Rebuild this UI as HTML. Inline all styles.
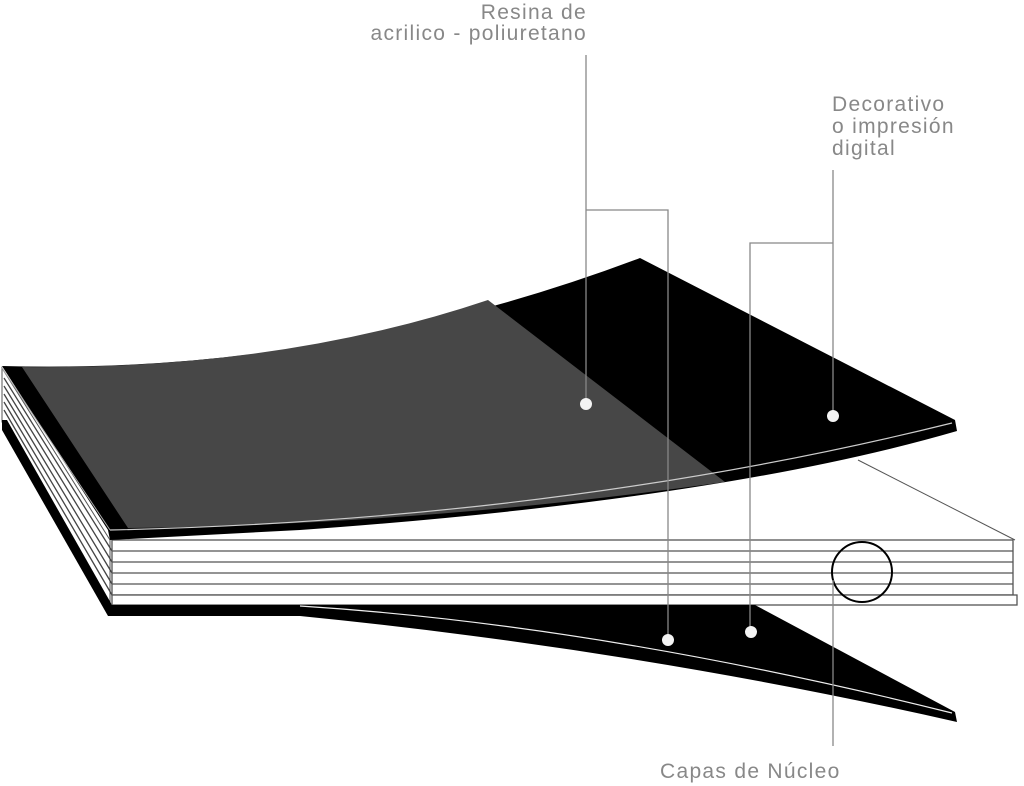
<!DOCTYPE html>
<html><head><meta charset="utf-8"><style>
html,body{margin:0;padding:0;background:#fff;width:1024px;height:786px;overflow:hidden}
svg{display:block}
text{font-family:"Liberation Sans",sans-serif;font-size:21px;fill:#888;letter-spacing:1.3px}
</style></head><body>
<svg width="1024" height="786" viewBox="0 0 1024 786" xmlns="http://www.w3.org/2000/svg">
<path d="M2,368 L110,540 L110,606 L2,422 Z" fill="#fff" stroke="#555" stroke-width="1"/>
<g stroke="#444" stroke-width="1.3">
<line x1="4" y1="378" x2="112" y2="551"/>
<line x1="4" y1="386" x2="112" y2="562"/>
<line x1="4" y1="394" x2="112" y2="573"/>
<line x1="4" y1="402" x2="112" y2="584"/>
<line x1="4" y1="410" x2="112" y2="595"/>
</g>
<path d="M2,420 L7,420 L112,605 L112,616 L108,616 L2,430 Z" fill="#000"/>
<g fill="#fff" stroke="#555" stroke-width="1.3">
<rect x="112" y="540" width="901" height="55"/>
<rect x="112" y="595" width="905" height="10"/>
</g>
<g stroke="#555" stroke-width="1.3">
<line x1="112" y1="551" x2="1013" y2="551"/>
<line x1="112" y1="562" x2="1013" y2="562"/>
<line x1="112" y1="573" x2="1013" y2="573"/>
<line x1="112" y1="584" x2="1013" y2="584"/>
</g>
<line x1="858" y1="460" x2="1015" y2="540" stroke="#555" stroke-width="1"/>
<path d="M2,366 Q330,375 640,258 L955,420 L957,431 Q720,500 300,530 L110,540 L108,530 Z" fill="#000"/>
<path d="M22,367 Q280,370 488,300 L725,482 Q420,525 128,528 Z" fill="#474747"/>
<path d="M110,530 Q560,520 952,423" fill="none" stroke="#ccc" stroke-width="1.2"/>
<path d="M2,368 L110,530" stroke="#aaa" stroke-width="1"/>
<path d="M110,605 L755,605 L955,712 L957,722 Q640,650 300,616 L110,616 Z" fill="#000"/>
<path d="M300,606 Q600,625 952,713" fill="none" stroke="#eee" stroke-width="1.2"/>
<circle cx="862" cy="572" r="30" fill="none" stroke="#000" stroke-width="2"/>
<g stroke="#888" stroke-width="1.3" fill="none">
<path d="M586,55 V403"/>
<path d="M586,210 H668 V640"/>
<path d="M833,170 V415"/>
<path d="M833,243 H750 V632"/>
<path d="M833,580 V746"/>
</g>
<g fill="#f4f4f4">
<circle cx="586" cy="404" r="6"/>
<circle cx="833" cy="416" r="6"/>
<circle cx="668" cy="640" r="6"/>
<circle cx="751" cy="632" r="6"/>
</g>
<text x="587" y="19" text-anchor="end">Resina de</text>
<text x="587" y="40" text-anchor="end">acrilico - poliuretano</text>
<text x="832" y="111">Decorativo</text>
<text x="832" y="133">o impresión</text>
<text x="832" y="155">digital</text>
<text x="660" y="778">Capas de Núcleo</text>
</svg>
</body></html>
